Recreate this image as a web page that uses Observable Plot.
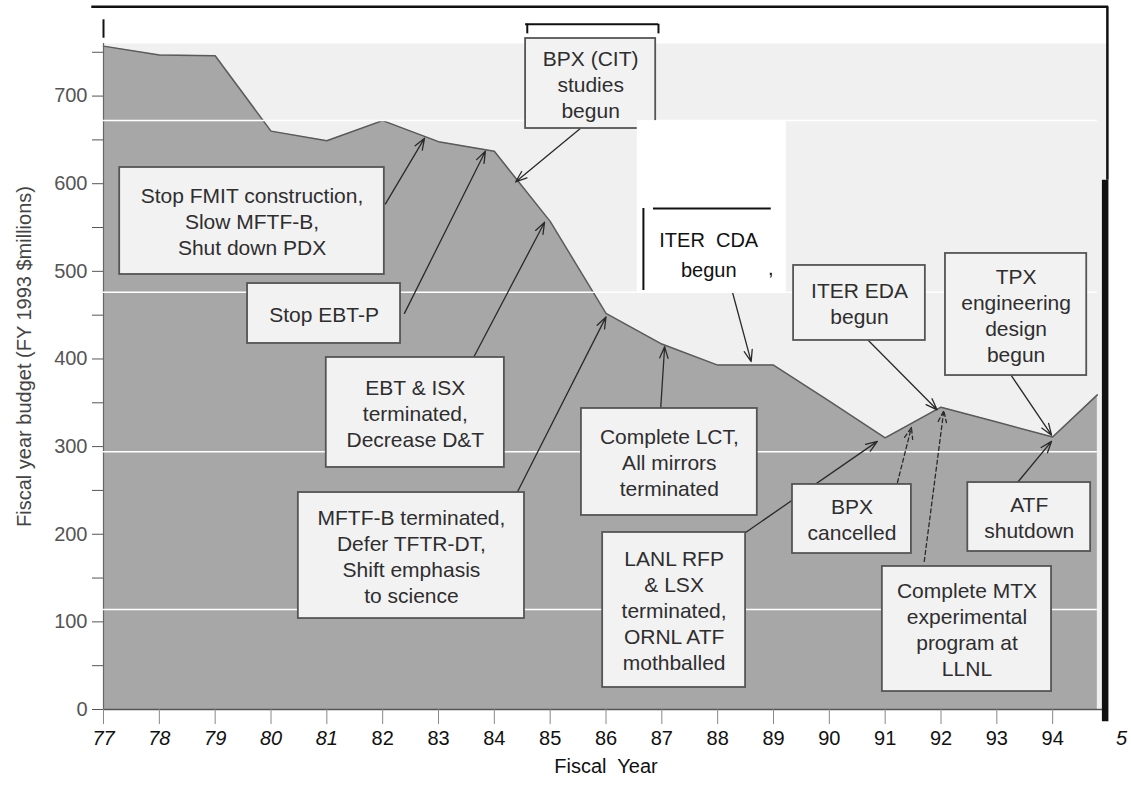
<!DOCTYPE html>
<html>
<head>
<meta charset="utf-8">
<script src="https://cdn.jsdelivr.net/npm/d3@7"></script>
<script src="https://cdn.jsdelivr.net/npm/@observablehq/plot@0.6"></script>
<style>
  body { margin: 0; background: #ffffff; }
  #chart svg { display: block; }
</style>
</head>
<body>
<div id="chart"></div>
<script>
// ---- data ----
const fiscalYears    = [77, 78, 79, 80, 81, 82, 83, 84, 85, 86, 87, 88, 89, 90, 91, 92, 93, 94, 94.8];
const budgetMillions = [757, 747, 746, 660, 649, 672, 648, 637, 557, 452, 417, 393, 393, 352, 310, 345, 328, 311, 359];

const yTickValues   = [0, 50, 100, 150, 200, 250, 300, 350, 400, 450, 500, 550, 600, 650, 700, 750];
const italicYears   = [77, 78, 79, 80, 81];
const uprightYears  = [82, 83, 84, 85, 86, 87, 88, 89, 90, 91, 92, 93, 94];
const strayYear     = [95];
const yTitle = "Fiscal year budget (FY 1993 $millions)";
const xTitle = "Fiscal  Year";

const noteTexts = [
  "Stop FMIT construction,\nSlow MFTF-B,\nShut down PDX",
  "Stop EBT-P",
  "EBT & ISX\nterminated,\nDecrease D&T",
  "MFTF-B terminated,\nDefer TFTR-DT,\nShift emphasis\nto science",
  "Complete LCT,\nAll mirrors\nterminated",
  "LANL RFP\n& LSX\nterminated,\nORNL ATF\nmothballed",
  "BPX\ncancelled",
  "Complete MTX\nexperimental\nprogram at\nLLNL",
  "ATF\nshutdown",
  "BPX (CIT)\nstudies\nbegun",
  "ITER EDA\nbegun",
  "TPX\nengineering\ndesign\nbegun"
];
// box extents in data units: [year from, year to, value top, value bottom]
const noteBoxes = [
  [77.29, 82.03, 618.5, 496.4],
  [79.58, 82.32, 486.1, 417.7],
  [80.99, 84.18, 401.7, 276.2],
  [80.49, 84.54, 247.6, 103.8],
  [85.56, 88.71, 343.5, 221.4],
  [85.94, 88.50, 202.0, 25.1],
  [89.34, 91.47, 256.8, 178.0],
  [90.95, 93.98, 163.2, 20.5],
  [92.48, 94.68, 259.0, 180.3],
  [84.56, 86.89, 765.7, 663.0],
  [89.36, 91.72, 506.7, 421.1],
  [92.08, 94.61, 520.4, 381.1]
];
// arrows in data units: [from year, from value, to year, to value, dashed]
const noteArrows = [
  [82.05, 577, 82.75, 652, false],
  [82.39, 452, 83.84, 637, false],
  [83.63, 402, 84.90, 556, false],
  [84.42, 249, 86.00, 448, false],
  [86.98, 344, 87.05, 414, false],
  [88.50, 202, 90.86, 306, false],
  [91.22, 259, 91.47, 322, true],
  [91.70, 169, 92.05, 341, true],
  [93.37, 259, 93.98, 306, false],
  [85.54, 663, 84.38, 602, false],
  [88.27, 475, 88.60, 397, false],
  [90.70, 421, 91.93, 342, false],
  [93.26, 381, 93.98, 313, false]
];
// the pasted-over "ITER CDA" note
const cdaText = "ITER  CDA\nbegun";
const cdaCenter = [87.84, 521.5];
const cdaPatch = [86.56, 89.23, 672, 474.7];
const cdaEdges = { left: [86.67, 571.7, 478.1], top: [86.85, 88.96, 571.7] };
const cdaComma = [88.95, 503];
// scan-edge strokes and seams that appear on the page
const scanH = [ {y: 802, x1: 76.79, x2: 95.0, w: 2.5}, {y: 782, x1: 84.56, x2: 86.94, w: 2} ];
const scanV = [
  {x: 94.98, y1: 802, y2: 604, w: 2.5},
  {x: 94.94, y1: 604, y2: -14, w: 6.5},
  {x: 77.0, y1: 787, y2: 766, w: 2},
  {x: 84.59, y1: 782, y2: 771, w: 2},
  {x: 86.94, y1: 782, y2: 771, w: 2}
];
const scanSeams = [672, 476, 294, 114];

// ---- tables for the library ----
const budget = fiscalYears.map((year, i) => ({year, value: budgetMillions[i]}));
const boxes = noteBoxes.map(([x1, x2, y1, y2], i) => ({x1, x2, y1, y2, text: noteTexts[i], cx: (x1 + x2) / 2, cy: (y1 + y2) / 2}));
const arrows = noteArrows.map(([x1, y1, x2, y2, dashed]) => ({x1, y1, x2, y2, dashed}));
const solidArrows = arrows.filter(d => !d.dashed);
const dashedArrows = arrows.filter(d => d.dashed);

const scanFont = "'Liberation Sans', Arial, Helvetica, sans-serif";

const chart = Plot.plot({
  width: 1131,
  height: 787,
  marginLeft: 103,
  marginRight: 23,
  marginTop: 43,
  marginBottom: 78,
  x: {domain: [77, 95]},
  y: {domain: [0, 760]},
  style: {fontFamily: scanFont, background: "#ffffff", color: "#222"},
  marks: [
    Plot.frame({fill: "#f0f0f0", stroke: null}),
    Plot.areaY(budget, {x: "year", y: "value", fill: "#a7a7a7"}),
    Plot.lineY(budget, {x: "year", y: "value", stroke: "#5a5a5a", strokeWidth: 1.5}),
    Plot.ruleY([0], {stroke: "#555", strokeWidth: 1.5}),
    Plot.ruleX([77], {stroke: "#666", strokeWidth: 1.2}),
    Plot.ruleY(scanSeams, {x1: 75.3, x2: 94.8, stroke: "#ffffff", strokeWidth: 1.5}),
    Plot.arrow(solidArrows, {x1: "x1", y1: "y1", x2: "x2", y2: "y2", stroke: "#2a2a2a", strokeWidth: 1.3, headLength: 14, headAngle: 40}),
    Plot.arrow(dashedArrows, {x1: "x1", y1: "y1", x2: "x2", y2: "y2", stroke: "#2a2a2a", strokeWidth: 1.3, headLength: 14, headAngle: 40, strokeDasharray: "4,3"}),
    Plot.rect(boxes, {x1: "x1", x2: "x2", y1: "y1", y2: "y2", fill: "#f2f2f2", stroke: "#555", strokeWidth: 1.8}),
    Plot.text(boxes, {x: "cx", y: "cy", text: "text", fontSize: 21, lineHeight: 1.24, fill: "#2e2e2e", textAnchor: "middle"}),
    // pasted ITER CDA note
    Plot.rect([cdaPatch], {x1: d => d[0], x2: d => d[1], y1: d => d[2], y2: d => d[3], fill: "#ffffff"}),
    Plot.ruleX([cdaEdges.left], {x: d => d[0], y1: d => d[1], y2: d => d[2], stroke: "#111", strokeWidth: 2}),
    Plot.ruleY([cdaEdges.top], {y: d => d[2], x1: d => d[0], x2: d => d[1], stroke: "#111", strokeWidth: 2}),
    Plot.text([cdaText], {x: () => cdaCenter[0], y: () => cdaCenter[1], text: d => d, fontSize: 20, lineHeight: 1.5, fill: "#111"}),
    Plot.text([","], {x: () => cdaComma[0], y: () => cdaComma[1], text: d => d, fontSize: 20, fill: "#111"}),
    // axes
    Plot.axisY({ticks: yTickValues, tickFormat: d => (d % 100 === 0 ? String(d) : ""), tickSize: 11, tickPadding: 5, fontSize: 20, color: "#555", label: null}),
    Plot.axisX({ticks: italicYears, tickFormat: d => String(d), tickSize: 15, tickPadding: 6, fontSize: 20, fontStyle: "italic", color: "#111", stroke: "#888", label: null}),
    Plot.axisX({ticks: uprightYears, tickFormat: d => String(d), tickSize: 15, tickPadding: 6, fontSize: 20, color: "#111", stroke: "#888", label: null}),
    Plot.axisX({ticks: strayYear, tickFormat: d => String(d % 10), tickSize: 0, tickPadding: 21, dx: 13, fontSize: 20, fontStyle: "italic", color: "#111", label: null}),
    Plot.text([yTitle], {frameAnchor: "left", rotate: -90, dx: -79, dy: -20, text: d => d, fontSize: 20, fill: "#444", textAnchor: "middle"}),
    Plot.text([xTitle], {frameAnchor: "bottom", dy: 63, text: d => d, fontSize: 20, fill: "#111", textAnchor: "middle"}),
    // scan-edge strokes
    Plot.ruleY(scanH, {y: "y", x1: "x1", x2: "x2", stroke: "#111", strokeWidth: "w"}),
    Plot.ruleX(scanV, {x: "x", y1: "y1", y2: "y2", stroke: "#111", strokeWidth: "w"})
  ]
});

document.getElementById("chart").append(chart);
</script>
</body>
</html>
